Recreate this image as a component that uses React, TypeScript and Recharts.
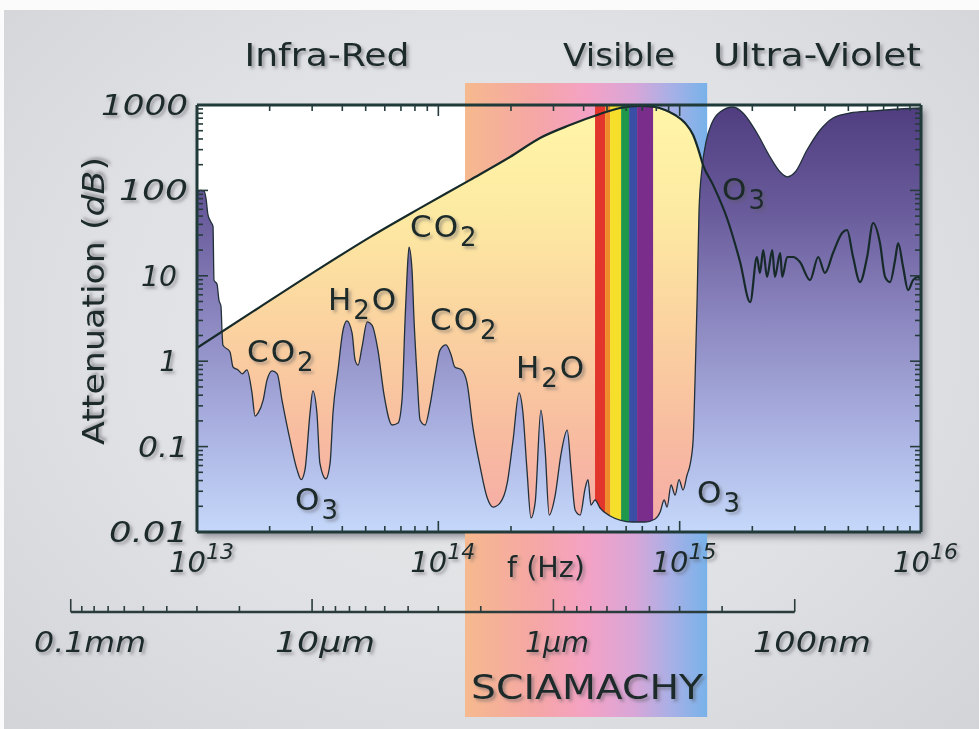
import React from "react";
import {
  ComposedChart,
  Area,
  Line,
  XAxis,
  YAxis,
  CartesianGrid,
  ReferenceArea,
  ReferenceLine,
} from "recharts";

// lower edge of the transmission window (absorption), frequency in Hz / attenuation in dB
const absorbFreq = [
  1.0e13, 1.03e13, 1.07e13, 1.09e13, 1.11e13, 1.14e13, 1.165e13, 1.176e13, 1.21e13, 1.233e13,
  1.257e13, 1.27e13, 1.28e13, 1.37e13, 1.41e13, 1.48e13, 1.54e13, 1.61e13, 1.69e13, 1.74e13,
  1.79e13, 1.88e13, 1.95e13, 2.05e13, 2.15e13, 2.25e13, 2.43e13, 2.6e13, 2.7e13, 2.8e13,
  2.94e13, 3.02e13, 3.14e13, 3.23e13, 3.42e13, 3.56e13, 3.66e13, 3.84e13, 4.03e13, 4.18e13,
  4.39e13, 4.52e13, 4.65e13, 4.83e13, 5.07e13, 5.31e13, 5.62e13, 5.96e13, 6.43e13, 6.81e13,
  7.07e13, 7.28e13, 7.42e13, 7.56e13, 7.78e13, 7.93e13, 8.16e13, 8.4e13, 8.81e13, 9.24e13,
  9.69e13, 1.016e14, 1.076e14, 1.13e14, 1.17e14, 1.25e14, 1.315e14, 1.39e14, 1.49e14, 1.59e14,
  1.685e14, 1.8e14, 1.93e14, 2.04e14, 2.16e14, 2.24e14, 2.33e14, 2.42e14, 2.52e14, 2.66e14,
  2.77e14, 2.88e14, 3.05e14, 3.22e14, 3.42e14, 3.55e14, 3.69e14, 3.87e14, 4.06e14, 4.17e14,
  4.29e14, 4.46e14, 4.68e14, 5.15e14, 5.66e14, 6.35e14, 7.19e14, 7.91e14, 8.3e14, 8.62e14,
  8.87e14, 9.21e14, 9.57e14, 9.94e14, 1.033e15, 1.073e15, 1.104e15, 1.137e15, 1.158e15, 1.181e15,
  1.203e15, 1.238e15, 1.286e15, 1.36e15, 1.47e15, 1.665e15, 1.83e15, 2.09e15, 2.37e15, 2.61e15,
  2.79e15, 3.01e15, 3.37e15, 3.82e15, 4.32e15, 5.08e15, 6.33e15, 8.19e15, 1.0e16,
];
const absorbDb = [
  92, 100, 98, 80, 52, 43, 38, 8.9, 8.0, 5.2,
  4.4, 2.2, 1.55, 1.28, 0.855, 0.79, 0.71, 0.79, 0.425, 0.228,
  0.247, 0.35, 0.6, 0.77, 0.71, 0.35, 0.119, 0.053, 0.041, 0.053,
  0.247, 0.45, 0.247, 0.064, 0.042, 0.064, 0.247, 0.79, 2.32, 2.96,
  2.14, 1.03, 0.9, 1.47, 2.88, 2.65, 1.35, 0.4, 0.179, 0.189,
  0.35, 3.03, 10.2, 21.7, 11.7, 3.03, 0.69, 0.205, 0.179, 0.307,
  0.69, 1.35, 1.55, 1.18, 0.855, 0.79, 0.556, 0.169, 0.058, 0.0257,
  0.0196, 0.0218, 0.0375, 0.119, 0.425, 0.254, 0.053, 0.0146, 0.0224, 0.268,
  0.091, 0.0158, 0.0271, 0.08, 0.156, 0.053, 0.018, 0.0158, 0.0327, 0.041,
  0.0207, 0.0237, 0.0191, 0.0154, 0.0138, 0.0131, 0.0131, 0.0142, 0.0171, 0.0237,
  0.0196, 0.0355, 0.0271, 0.041, 0.031, 0.0465, 0.061, 0.119, 0.6, 5.2,
  59, 183, 369, 615, 828, 948, 806, 470, 246, 164,
  144, 164, 297, 510, 705, 806, 851, 898, 922,
];

// upper curve (black line), frequency in Hz / attenuation in dB
const upperFreq = [
  1.0e13, 1.82e13, 3.24e13, 5.21e13, 8.4e13, 1.35e14, 1.98e14, 2.64e14, 3.51e14, 4.68e14,
  5.66e14, 6.85e14, 7.91e14, 8.7e14, 9.57e14, 1.053e15, 1.137e15, 1.19e15, 1.25e15, 1.375e15,
  1.57e15, 1.78e15, 1.96e15, 2.09e15, 2.15e15, 2.22e15, 2.3e15, 2.42e15, 2.48e15, 2.61e15,
  2.66e15, 2.79e15, 2.95e15, 3.15e15, 3.47e15, 3.75e15, 4.0e15, 4.32e15, 4.71e15, 4.94e15,
  5.23e15, 5.59e15, 5.98e15, 6.33e15, 6.76e15, 7.1e15, 7.45e15, 7.81e15, 8.04e15, 8.43e15,
  8.84e15, 9.27e15, 9.72e15, 1.0e16,
];
const upperDb = [
  1.43, 4.3, 12.3, 28.4, 62, 132, 246, 411, 583, 785,
  922, 973, 948, 874, 763, 615, 445, 313, 198, 116,
  47.5, 14.5, 4.9, 16.6, 10.8, 20, 9.7, 20, 9.7, 18.5,
  9.7, 16.6, 16.6, 14.5, 8.9, 16.6, 10.8, 18.5, 31.7, 34.4,
  16.6, 8.45, 16.6, 41.5, 24.2, 9.7, 8.45, 15.3, 24.2, 12.7,
  6.8, 8.9, 9.7, 8.9,
];

// visible spectrum stripes (Hz)
const rainbowEdges = [4.46e14, 4.91e14, 5.15e14, 5.72e14, 6.17e14, 6.66e14, 7.76e14];
const rainbowColors = ["#e2352c", "#f08b2c", "#f6df2a", "#1f984b", "#3a4ea6", "#7b2d8c"];

// SCIAMACHY spectral range (Hz)
const sciamachyRange = [1.29e14, 1.3e15];

const freqMajor = [1e13, 1e14, 1e15, 1e16];
const dbMajor = [0.01, 0.1, 1, 10, 100, 1000];
const dbLabels = ["0.01", "0.1", "1", "10", "100", "1000"];
const dbLabelLen = [79, 50, 0, 36, 69, 87];

const wavelengthMajorUm = [100, 10, 1, 0.1];
const wavelengthLabels = ["0.1mm", "10\u00b5m", "1\u00b5m", "100nm"];
const C_UM = 2.998e14; // c in µm·Hz

// vertical placement of the wavelength bar, in the chart's dB space (below the frame)
const BAR_DB = 1.16e-3;
const BAR_MAJOR_TOP = 1.64e-3;
const BAR_MINOR_TOP = 1.36e-3;

const FONT = '"DejaVu Sans", Verdana, sans-serif';
const INK = "#1b2a2b";
const FRAME = "#203a3a";

const withMinors = (majors: number[]) => {
  const out: number[] = [];
  majors.forEach((m, i) => {
    out.push(m);
    if (i < majors.length - 1) for (let k = 2; k <= 9; k++) out.push(m * k);
  });
  return out;
};
const freqTicks = withMinors(freqMajor);
const dbTicks = withMinors(dbMajor);
const isIn = (arr: number[], v: number) => arr.some((a) => Math.abs(a - v) / a < 1e-6);

const wlTicks: { f: number; major: boolean }[] = [];
wavelengthMajorUm.forEach((um, i) => {
  wlTicks.push({ f: C_UM / um, major: true });
  const next = wavelengthMajorUm[i + 1];
  if (next) for (let k = 2; k <= 9; k++) wlTicks.push({ f: C_UM / (next * k), major: false });
});

type Row = { f: number; absorb?: number; upper?: number };
const buildRows = () => {
  const map = new Map<number, Row>();
  absorbFreq.forEach((f, i) => {
    const r = map.get(f) ?? { f };
    r.absorb = absorbDb[i];
    map.set(f, r);
  });
  upperFreq.forEach((f, i) => {
    const r = map.get(f) ?? { f };
    r.upper = upperDb[i];
    map.set(f, r);
  });
  return [...map.values()].sort((a, b) => a.f - b.f);
};
const chartData = buildRows();

const tickStroke = "#263c3c";

const BottomTick = (props: any) => {
  const { x, y, payload } = props;
  const v = payload.value;
  const major = isIn(freqMajor, v);
  return (
    <g>
      <line x1={x} x2={x} y1={y} y2={y - (major ? 11 : 6)} stroke={tickStroke} strokeWidth={1.6} />
      {major && (
        <text x={x - 28} y={y + 40} fontSize={29} fontStyle="italic" fill={INK} fontFamily={FONT} filter="url(#txtShadow)">
          10
          <tspan dy={-13} fontSize={22}>
            {Math.round(Math.log10(v))}
          </tspan>
        </text>
      )}
    </g>
  );
};

const TopTick = (props: any) => {
  const { x, y, payload } = props;
  const major = isIn(freqMajor, payload.value);
  return <line x1={x} x2={x} y1={y} y2={y + (major ? 11 : 6)} stroke={tickStroke} strokeWidth={1.6} />;
};

const LeftTick = (props: any) => {
  const { x, y, payload } = props;
  const v = payload.value;
  const idx = dbMajor.findIndex((m) => Math.abs(m - v) / m < 1e-6);
  return (
    <g>
      <line x1={x} x2={x + (idx >= 0 ? 11 : 6)} y1={y} y2={y} stroke={tickStroke} strokeWidth={1.6} />
      {idx >= 0 && (
        <text
          x={idx === 2 || idx === 3 ? x - 20 : x - 9}
          y={y + 10}
          textAnchor="end"
          fontSize={28}
          fontStyle="italic"
          fill={INK}
          fontFamily={FONT}
          filter="url(#txtShadow)"
          textLength={dbLabelLen[idx] || undefined}
          lengthAdjust="spacingAndGlyphs"
        >
          {dbLabels[idx]}
        </text>
      )}
    </g>
  );
};

const RightTick = (props: any) => {
  const { x, y, payload } = props;
  const major = isIn(dbMajor, payload.value);
  return <line x1={x} x2={x - (major ? 11 : 6)} y1={y} y2={y} stroke={tickStroke} strokeWidth={1.6} />;
};

// molecule annotations: name, text start x, baseline y
const molecules = [
  { name: "CO2", x: 247, y: 362 },
  { name: "O3", x: 295, y: 510 },
  { name: "H2O", x: 328, y: 310 },
  { name: "CO2", x: 410, y: 237 },
  { name: "CO2", x: 430, y: 330 },
  { name: "H2O", x: 516, y: 378 },
  { name: "O3", x: 722, y: 200 },
  { name: "O3", x: 697, y: 503 },
];

const Molecule = ({ name, x, y }: { name: string; x: number; y: number }) => {
  let sub = false;
  return (
    <text x={x} y={y} fontSize={31} letterSpacing={2} fill={INK} fontFamily={FONT} filter="url(#txtShadow)">
      {name.split("").map((ch, i) => {
        const digit = /\d/.test(ch);
        const dy = digit && !sub ? 9 : !digit && sub ? -9 : 0;
        sub = digit;
        return (
          <tspan key={i} dy={dy} fontSize={digit ? 26 : 31}>
            {ch}
          </tspan>
        );
      })}
    </text>
  );
};

const Label = (p: { x: number; y: number; size?: number; len?: number; italic?: boolean; children: React.ReactNode }) => (
  <text
    x={p.x}
    y={p.y}
    fontSize={p.size ?? 30}
    textAnchor="middle"
    fontStyle={p.italic ? "italic" : "normal"}
    fill={INK}
    fontFamily={FONT}
    filter="url(#txtShadow)"
    textLength={p.len}
    lengthAdjust="spacingAndGlyphs"
  >
    {p.children}
  </text>
);

const wlLabelX = [90, 325, 557, 812];
const wlLabelLen = [112, 100, 64, 118];

export default function App() {
  return (
    <div style={{ position: "absolute", left: 0, top: 0, width: 979, height: 729, background: "#fbfbfb", overflow: "hidden" }}>
      <div
        style={{
          position: "absolute",
          left: 4,
          top: 10,
          right: 0,
          bottom: 0,
          background: "radial-gradient(ellipse at 50% 45%, #e9e9eb 0%, #e0e1e4 55%, #d3d4d8 100%)",
        }}
      />
      <div
        style={{
          position: "absolute",
          left: 197,
          top: 105,
          width: 724,
          height: 427,
          background: "#fff",
          boxShadow: "4px 5px 7px rgba(40,40,55,0.45)",
        }}
      />
      <svg width={0} height={0} style={{ position: "absolute" }}>
        <defs>
          <linearGradient id="yellowGrad" x1="0" y1="0" x2="0" y2="1">
            <stop offset="0%" stopColor="#fff6a8" />
            <stop offset="25%" stopColor="#fdeaa2" />
            <stop offset="50%" stopColor="#fbd4a0" />
            <stop offset="75%" stopColor="#f8bea0" />
            <stop offset="100%" stopColor="#f5aaa6" />
          </linearGradient>
          <linearGradient id="purpleGrad" x1="0" y1="0" x2="0" y2="1">
            <stop offset="0%" stopColor="#4f3d80" />
            <stop offset="25%" stopColor="#6a5c9c" />
            <stop offset="50%" stopColor="#8c87c0" />
            <stop offset="75%" stopColor="#a9b0e0" />
            <stop offset="100%" stopColor="#c5d8fa" />
          </linearGradient>
          <linearGradient id="bandGrad" x1="0" y1="0" x2="1" y2="0">
            <stop offset="0%" stopColor="#f6b98e" />
            <stop offset="30%" stopColor="#f5a6a6" />
            <stop offset="50%" stopColor="#f4a2c4" />
            <stop offset="70%" stopColor="#d8a6d8" />
            <stop offset="85%" stopColor="#a8b0e6" />
            <stop offset="100%" stopColor="#78b2ea" />
          </linearGradient>
          <filter id="txtShadow" x="-10%" y="-20%" width="130%" height="150%">
            <feDropShadow dx="2.5" dy="2.5" stdDeviation="1.5" floodColor="#55565c" floodOpacity="0.5" />
          </filter>
        </defs>
      </svg>
      <div style={{ position: "absolute", left: 0, top: 0 }}>
        <ComposedChart width={979} height={729} data={chartData} margin={{ top: 104, right: 57, bottom: 136, left: 0 }}>
          <CartesianGrid horizontal={false} vertical={false} fill="#ffffff" fillOpacity={1} zIndex={-100} />
          <XAxis
            dataKey="f"
            type="number"
            scale="log"
            domain={[1e13, 1e16]}
            allowDataOverflow
            ticks={freqTicks}
            interval={0}
            tick={BottomTick}
            tickLine={false}
            tickSize={0}
            tickMargin={0}
            height={61}
            axisLine={{ stroke: FRAME, strokeWidth: 3 }}
          />
          <XAxis
            xAxisId="top"
            orientation="top"
            dataKey="f"
            type="number"
            scale="log"
            domain={[1e13, 1e16]}
            allowDataOverflow
            ticks={freqTicks}
            interval={0}
            tick={TopTick}
            tickLine={false}
            tickSize={0}
            tickMargin={0}
            height={1}
            axisLine={{ stroke: FRAME, strokeWidth: 3 }}
          />
          <YAxis
            type="number"
            scale="log"
            domain={[0.01, 1000]}
            allowDataOverflow
            ticks={dbTicks}
            interval={0}
            tick={LeftTick}
            tickLine={false}
            tickSize={0}
            tickMargin={0}
            width={197}
            axisLine={{ stroke: FRAME, strokeWidth: 3 }}
          />
          <YAxis
            yAxisId="right"
            orientation="right"
            type="number"
            scale="log"
            domain={[0.01, 1000]}
            allowDataOverflow
            ticks={dbTicks}
            interval={0}
            tick={RightTick}
            tickLine={false}
            tickSize={0}
            tickMargin={0}
            width={1}
            axisLine={{ stroke: FRAME, strokeWidth: 3 }}
          />
          <ReferenceArea
            x1={sciamachyRange[0]}
            x2={sciamachyRange[1]}
            y1={6.8e-5}
            y2={1810}
            ifOverflow="visible"
            fill="url(#bandGrad)"
            fillOpacity={1}
            stroke="none"
            zIndex={50}
          />
          <Area
            dataKey="upper"
            type="monotone"
            connectNulls
            baseValue={0.01}
            fill="url(#yellowGrad)"
            fillOpacity={1}
            stroke="none"
            dot={false}
            activeDot={false}
            isAnimationActive={false}
            zIndex={100}
          />
          {rainbowColors.map((c, i) => (
            <ReferenceArea
              key={c}
              x1={rainbowEdges[i]}
              x2={rainbowEdges[i + 1]}
              y1={0.01}
              y2={1000}
              fill={c}
              fillOpacity={1}
              stroke="none"
              ifOverflow="hidden"
              zIndex={110}
            />
          ))}
          <Area
            dataKey="absorb"
            type="monotone"
            connectNulls
            baseValue={0.01}
            fill="url(#purpleGrad)"
            fillOpacity={1}
            stroke="#22303a"
            strokeWidth={1.3}
            dot={false}
            activeDot={false}
            isAnimationActive={false}
            zIndex={120}
          />
          <Line
            dataKey="upper"
            type="monotone"
            connectNulls
            stroke="#172a2a"
            strokeWidth={2.2}
            dot={false}
            activeDot={false}
            isAnimationActive={false}
            zIndex={130}
          />
          <ReferenceLine
            segment={[
              { x: C_UM / wavelengthMajorUm[0], y: BAR_DB },
              { x: C_UM / wavelengthMajorUm[wavelengthMajorUm.length - 1], y: BAR_DB },
            ]}
            stroke="#2a3c3c"
            strokeWidth={2.5}
            ifOverflow="visible"
            zIndex={140}
          />
          {wlTicks.map((t, i) => (
            <ReferenceLine
              key={"wl" + i}
              segment={[
                { x: t.f, y: BAR_DB },
                { x: t.f, y: t.major ? BAR_MAJOR_TOP : BAR_MINOR_TOP },
              ]}
              stroke="#2a3c3c"
              strokeWidth={1.6}
              ifOverflow="visible"
              zIndex={140}
            />
          ))}
        </ComposedChart>
      </div>
      <svg width={979} height={729} style={{ position: "absolute", left: 0, top: 0, pointerEvents: "none" }}>
        <Label x={327} y={66} size={32} len={165}>Infra-Red</Label>
        <Label x={619} y={66} size={32} len={112}>Visible</Label>
        <Label x={817} y={66} size={32} len={208}>Ultra-Violet</Label>
        <g transform="translate(104,301) rotate(-90)">
          <Label x={0} y={0} size={31} len={288}>
            Attenuation (<tspan fontStyle="italic">dB</tspan>)
          </Label>
        </g>
        <Label x={546} y={577} size={29} len={78}>f (Hz)</Label>
        {wavelengthLabels.map((t, i) => (
          <Label key={t} x={wlLabelX[i]} y={652} size={28} len={wlLabelLen[i]} italic>
            {t}
          </Label>
        ))}
        <Label x={587} y={699} size={33} len={232}>SCIAMACHY</Label>
        {molecules.map((m, i) => (
          <Molecule key={i} name={m.name} x={m.x} y={m.y} />
        ))}
      </svg>
    </div>
  );
}
